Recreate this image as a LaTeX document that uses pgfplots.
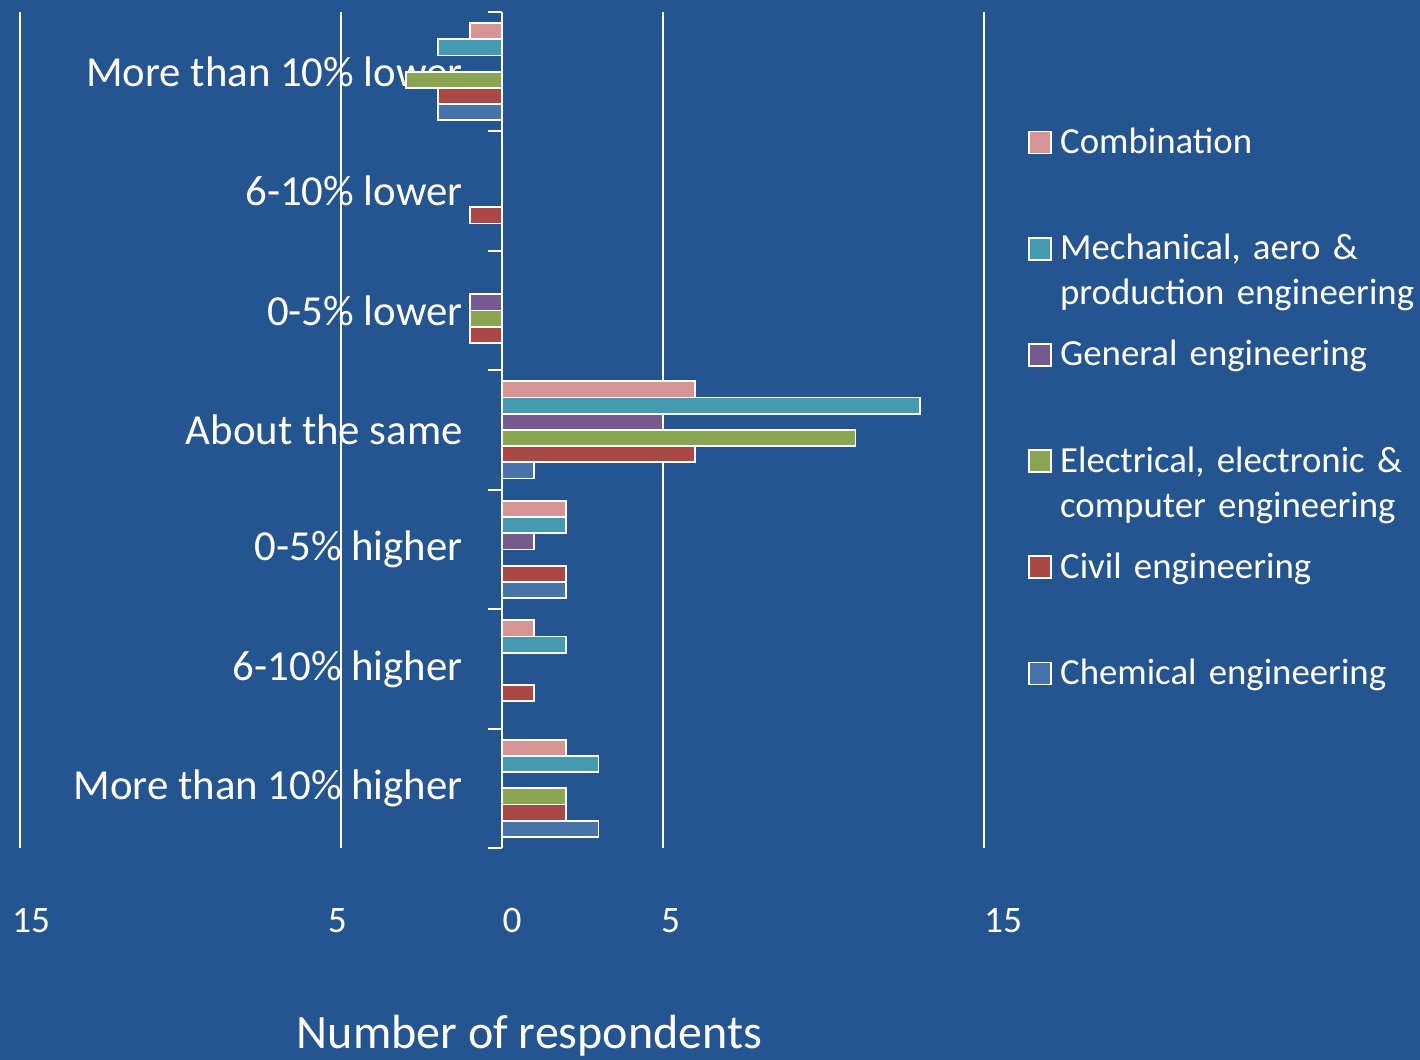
\documentclass[border=0pt]{standalone}
\usepackage{pgfplots}
\pgfplotsset{compat=1.18}
\usepackage{fontspec}
\setmainfont{Carlito}
\definecolor{bg}{HTML}{255591}
\definecolor{cPink}{HTML}{D59594}
\definecolor{cTeal}{HTML}{4599B1}
\definecolor{cPurple}{HTML}{745A8F}
\definecolor{cGreen}{HTML}{8AA551}
\definecolor{cRed}{HTML}{AA4845}
\definecolor{cBlue}{HTML}{4773AA}
\pgfplotsset{sq/.style={legend image code/.code={\draw[##1] (0pt,0pt) rectangle (11pt,11pt);}}}
\begin{document}
\begin{tikzpicture}[x=1pt,y=1pt]
\fill[bg] (0,0) rectangle (710,530);
\useasboundingbox (0,0) rectangle (710,530);
\begin{axis}[
  at={(10pt,106pt)}, anchor=south west,
  width=482pt, height=418pt, scale only axis,
  xbar=0pt, bar width=8.1pt,
  xmin=-15, xmax=15, ymin=-0.5, ymax=6.5,
  axis y line=middle, axis x line=bottom,
  x axis line style={draw=none},
  y axis line style={white, line width=1pt, -},
  xtick={-15,-5,0,5,15},
  xticklabels={\hspace*{11pt}15, 5\hspace*{4pt}, \hspace*{10pt}0, \hspace*{8pt}5, \hspace*{19pt}15},
  xtick style={draw=none},
  xmajorgrids, grid style={white, line width=1pt},
  ytick={0,...,6},
  yticklabels={More than 10\% higher, 6-10\% higher, 0-5\% higher, About the same, 0-5\% lower, 6-10\% lower, More than 10\% lower},
  minor ytick={-0.5,0.5,...,6.5},
  major tick length=0pt, minor tick length=7pt,
  ytick align=outside,
  minor y tick style={white, line width=1pt},
  yticklabel style={font=\fontsize{21.4}{25}\selectfont, text=white, anchor=east, inner sep=0pt, xshift=-19.5pt},
  xticklabel style={font=\fontsize{18.7}{22}\selectfont, text=white, anchor=base, inner sep=0pt, yshift=-42.5pt},
  xlabel={Number of respondents},
  xlabel style={at={(axis description cs:0.5285,0)}, anchor=base, yshift=-100.5pt, font=\fontsize{24}{28}\selectfont, text=white},
  reverse legend,
  legend style={at={(axis description cs:1.0456,0.860)}, anchor=north west, draw=none, fill=none, inner sep=0pt, row sep=0pt, column sep=4pt, font=\fontsize{18.4}{22.5}\selectfont, text=white, nodes={inner sep=0pt, text height=12pt, text depth=41.1pt, text width=200pt, align=left}, cells={anchor=base west}},
]
\addplot[fill=cBlue, draw=white, line width=0.9pt, sq] coordinates {(-2,6) (1,3) (2,2) (3,0)};
\addlegendentry{Chemical engineering}
\addplot[fill=cRed, draw=white, line width=0.9pt, sq] coordinates {(-2,6) (-1,5) (-1,4) (6,3) (2,2) (1,1) (2,0)};
\addlegendentry{Civil engineering}
\addplot[fill=cGreen, draw=white, line width=0.9pt, sq] coordinates {(-3,6) (-1,4) (11,3) (2,0)};
\addlegendentry{Electrical, electronic \&\\computer engineering}
\addplot[fill=cPurple, draw=white, line width=0.9pt, sq] coordinates {(-1,4) (5,3) (1,2)};
\addlegendentry{General engineering}
\addplot[fill=cTeal, draw=white, line width=0.9pt, sq] coordinates {(-2,6) (13,3) (2,2) (2,1) (3,0)};
\addlegendentry{Mechanical, aero \&\\production engineering}
\addplot[fill=cPink, draw=white, line width=0.9pt, sq] coordinates {(-1,6) (6,3) (2,2) (1,1) (2,0)};
\addlegendentry{Combination}
\end{axis}
\end{tikzpicture}
\end{document}
